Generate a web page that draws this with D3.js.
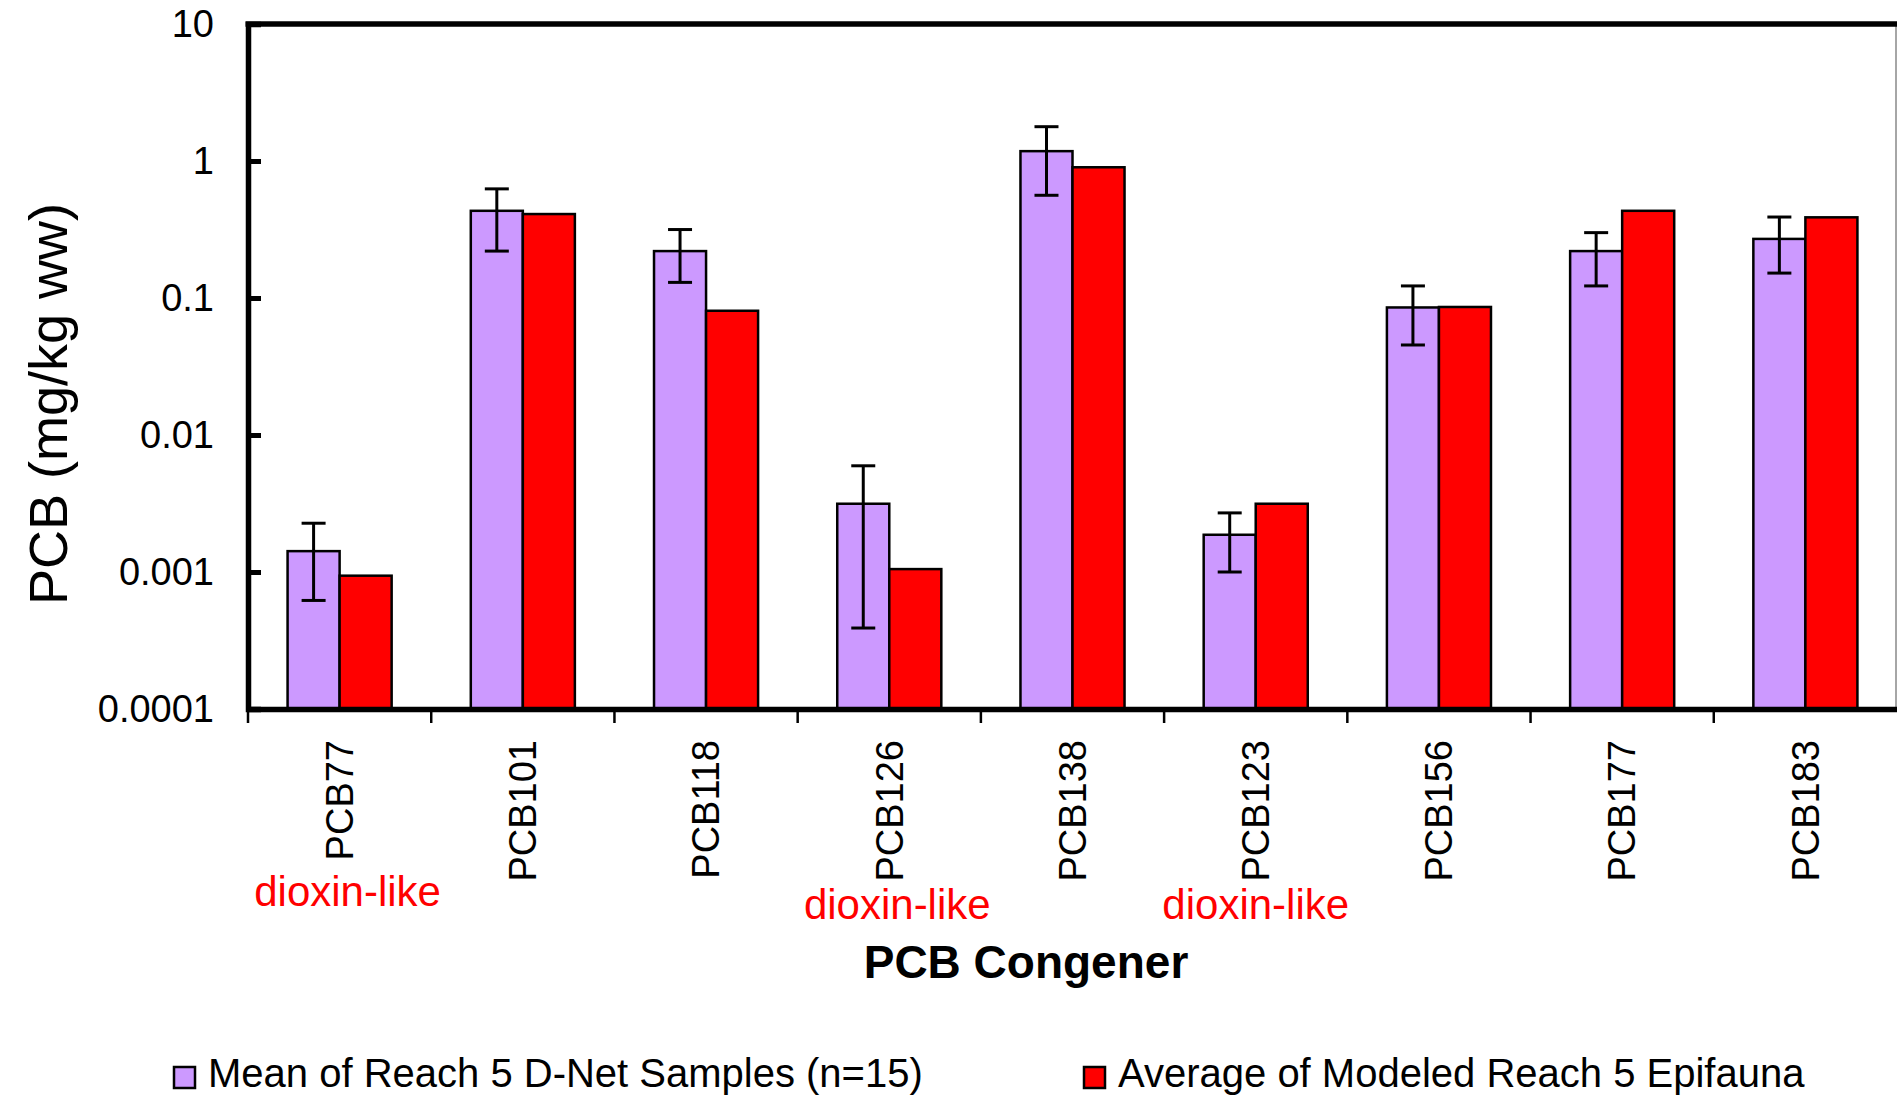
<!DOCTYPE html>
<html>
<head>
<meta charset="utf-8">
<script src="https://cdn.jsdelivr.net/npm/d3@7"></script>
<style>
  body { margin: 0; background: #fff; }
  svg { display: block; font-family: Arial, "Liberation Sans", sans-serif; }
</style>
</head>
<body>
<svg id="chart" width="1897" height="1095"></svg>
<script>
// values
var categories = ['PCB77','PCB101','PCB118','PCB126','PCB138','PCB123','PCB156','PCB177','PCB183'];
var measuredMean = [0.00142, 0.433, 0.22, 0.00315, 1.18, 0.00187, 0.0853, 0.22, 0.27];
var measuredHigh = [0.00227, 0.626, 0.316, 0.00596, 1.78, 0.0027, 0.1225, 0.30, 0.39];
var measuredLow  = [0.00062, 0.22, 0.13, 0.00039, 0.562, 0.001, 0.0454, 0.1225, 0.152];
var modeled      = [0.00094, 0.41, 0.0807, 0.00105, 0.90, 0.00315, 0.086, 0.433, 0.388];
var yTicks = [0.0001, 0.001, 0.01, 0.1, 1, 10];
var yTickLabels = ['0.0001','0.001','0.01','0.1','1','10'];
var dioxinLike = ['PCB77','PCB126','PCB123'];
var seriesNames = ['Mean of Reach 5 D-Net Samples (n=15)', 'Average of Modeled Reach 5 Epifauna'];
var seriesColors = ['#CC99FF', '#FF0000'];

var margin = {top: 24, right: 0, bottom: 386, left: 248};
var W = 1897, H = 1095;
var svg = d3.select('#chart');

var x = d3.scaleBand().domain(categories).range([margin.left, W - margin.right]).padding(0);
var y = d3.scaleLog().domain([0.0001, 10]).range([H - margin.bottom, margin.top]);
var bw = x.bandwidth();
var barW = bw * 0.284;
var x1 = d3.scaleBand().domain([0, 1]).range([bw / 2 - barW, bw / 2 + barW]).padding(0);

var rows = categories.map(function(c, i) {
  return {cat: c, vals: [measuredMean[i], modeled[i]], hi: measuredHigh[i], lo: measuredLow[i]};
});

var g = svg.append('g');
var grp = g.selectAll('g.cat').data(rows).enter().append('g')
  .attr('class', 'cat')
  .attr('transform', function(d) { return 'translate(' + x(d.cat) + ',0)'; });

grp.selectAll('rect').data(function(d) { return d.vals; }).enter().append('rect')
  .attr('x', function(d, i) { return x1(i); })
  .attr('width', x1.bandwidth())
  .attr('y', function(d) { return y(d); })
  .attr('height', function(d) { return y(0.0001) - y(d); })
  .attr('fill', function(d, i) { return seriesColors[i]; })
  .attr('stroke', '#000')
  .attr('stroke-width', 2.5);

// error bars on the measured series
var capW = 12;
grp.each(function(d) {
  var cx = x1(0) + x1.bandwidth() / 2;
  var s = d3.select(this).append('g').attr('stroke', '#000').attr('stroke-width', 3);
  s.append('line').attr('x1', cx).attr('x2', cx).attr('y1', y(d.hi)).attr('y2', y(d.lo));
  s.append('line').attr('x1', cx - capW).attr('x2', cx + capW).attr('y1', y(d.hi)).attr('y2', y(d.hi));
  s.append('line').attr('x1', cx - capW).attr('x2', cx + capW).attr('y1', y(d.lo)).attr('y2', y(d.lo));
});

// frame: thin right border, thick top line
svg.append('line').attr('x1', W - 1).attr('x2', W - 1).attr('y1', margin.top).attr('y2', y(0.0001))
  .attr('stroke', '#888').attr('stroke-width', 1.5);
svg.append('line').attr('x1', margin.left - 2.5).attr('x2', W).attr('y1', margin.top).attr('y2', margin.top)
  .attr('stroke', '#000').attr('stroke-width', 5.5);

// y axis
var yAxis = svg.append('g').attr('transform', 'translate(' + margin.left + ',0)')
  .call(d3.axisLeft(y).tickValues(yTicks).tickSize(-13).tickPadding(34)
    .tickFormat(function(d, i) { return yTickLabels[i]; }));
yAxis.select('.domain').attr('stroke-width', 5.5);
yAxis.selectAll('.tick line').attr('stroke-width', 5);
yAxis.selectAll('text').attr('font-size', 38).attr('fill', '#000');

// x axis
var xAxis = svg.append('g').attr('transform', 'translate(0,' + y(0.0001) + ')')
  .call(d3.axisBottom(x).tickSize(0));
xAxis.select('.domain').attr('stroke-width', 5.5);
xAxis.selectAll('.tick text')
  .attr('font-size', 38).attr('fill', '#000')
  .attr('transform', 'rotate(-90)')
  .attr('text-anchor', 'end')
  .attr('x', -31).attr('y', 0).attr('dy', '0.35em');

// boundary ticks between categories
xAxis.selectAll('line.sep').data(categories).enter().append('line')
  .attr('class', 'sep')
  .attr('x1', function(d) { return x(d); }).attr('x2', function(d) { return x(d); })
  .attr('y1', 2).attr('y2', 14)
  .attr('stroke', '#000').attr('stroke-width', 2.5);

// dioxin-like notes
svg.selectAll('text.dioxin').data(dioxinLike).enter().append('text')
  .attr('class', 'dioxin')
  .attr('x', function(d) { return x(d) + bw / 2 + (d === 'PCB123' ? 0 : 8); })
  .attr('y', function(d, i) { return i === 0 ? 906 : 919; })
  .attr('text-anchor', 'middle')
  .attr('font-size', 42)
  .attr('fill', '#FF0000')
  .text('dioxin-like');

// axis titles
svg.append('text')
  .attr('x', 1026).attr('y', 978)
  .attr('text-anchor', 'middle')
  .attr('font-size', 46).attr('font-weight', 'bold')
  .text('PCB Congener');

svg.append('text')
  .attr('transform', 'translate(67,404) rotate(-90)')
  .attr('text-anchor', 'middle')
  .attr('font-size', 54)
  .text('PCB (mg/kg ww)');

// legend
var legendX = [174, 1084];
var leg = svg.selectAll('g.legend').data(seriesNames).enter().append('g')
  .attr('class', 'legend')
  .attr('transform', function(d, i) { return 'translate(' + legendX[i] + ',1067)'; });
leg.append('rect')
  .attr('width', 21).attr('height', 21)
  .attr('fill', function(d, i) { return seriesColors[i]; })
  .attr('stroke', '#000').attr('stroke-width', 2.5);
leg.append('text')
  .attr('x', 34).attr('y', 20)
  .attr('font-size', 40)
  .text(function(d) { return d; });
</script>
</body>
</html>
